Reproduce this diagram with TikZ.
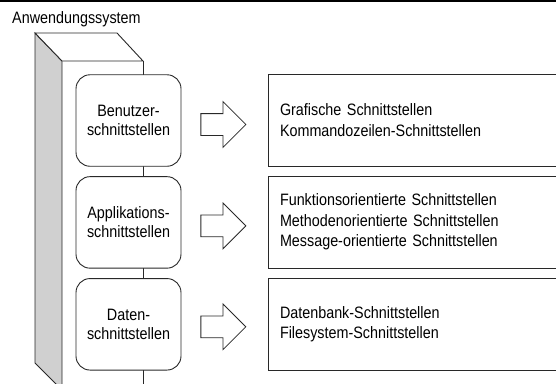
\documentclass[tikz,border=0pt]{standalone}
\usepackage{fontspec}
\setmainfont[FakeStretch=0.87]{Liberation Sans}
\usetikzlibrary{positioning, shapes.arrows}

\definecolor{sidegray}{RGB}{208,208,208}
\definecolor{linegray}{RGB}{40,40,40}

\tikzset{
  ifbox/.style={draw=linegray, line width=0.9pt, fill=white, rounded corners=14pt,
    minimum width=105pt, minimum height=91.5pt, align=center,
    font=\fontsize{16.5}{19}\selectfont},
  listbox/.style={draw=linegray, line width=1pt, fill=white,
    minimum width=296pt, minimum height=92pt, text width=272pt, inner xsep=12pt,
    align=left, font=\fontsize{16.5}{20.5}\selectfont},
  blockarrow/.style={single arrow, draw=linegray, line width=0.8pt, fill=white,
    minimum height=45pt, inner xsep=0pt, inner ysep=10.5pt,
    single arrow head extend=12pt}
}

\begin{document}
\begin{tikzpicture}[x=1pt, y=-1pt]
  \useasboundingbox (0,0) rectangle (556,383);
  \clip (0,0) rectangle (556,383);

  % Kopfzeile
  \fill (0,0) rectangle (556,2.4);
  \node[anchor=base west, inner sep=0pt, font=\fontsize{16.5}{19}\selectfont] (titel) at (12,23) {Anwendungssystem};

  % Saeule
  \filldraw[fill=sidegray, draw=linegray, line width=0.9pt] (35,33) -- (62,61) -- (62,390) -- (35,363) -- cycle;
  \filldraw[fill=white, draw=linegray, line width=0.9pt] (35,33) -- (117,33) -- (143,61) -- (62,61) -- cycle;
  \draw[linegray, line width=0.9pt] (143,61) -- (143,390);

  % Schnittstellenarten
  \node[ifbox] (benutzer) at (128.5,120.5) {Benutzer-\\schnittstellen};
  \node[ifbox, below=9.5pt of benutzer] (appl) {Applikations-\\schnittstellen};
  \node[ifbox, below=9.5pt of appl] (daten) {Daten-\\schnittstellen};

  \node[blockarrow, right=19pt of benutzer, yshift=-4pt] (pfeilA) {};
  \node[blockarrow, right=19pt of appl, yshift=-3.5pt] (pfeilB) {};
  \node[blockarrow, right=19pt of daten, yshift=-2.5pt] (pfeilC) {};

  \node[listbox] (gui) at (416,120) {Grafische Schnittstellen\\Kommandozeilen-Schnittstellen};
  \node[listbox, below=9pt of gui] (api) {Funktionsorientierte Schnittstellen\\Methodenorientierte Schnittstellen\\Message-orientierte Schnittstellen};
  \node[listbox, below=9pt of api] (db) {Datenbank-Schnittstellen\\Filesystem-Schnittstellen};
\end{tikzpicture}
\end{document}
